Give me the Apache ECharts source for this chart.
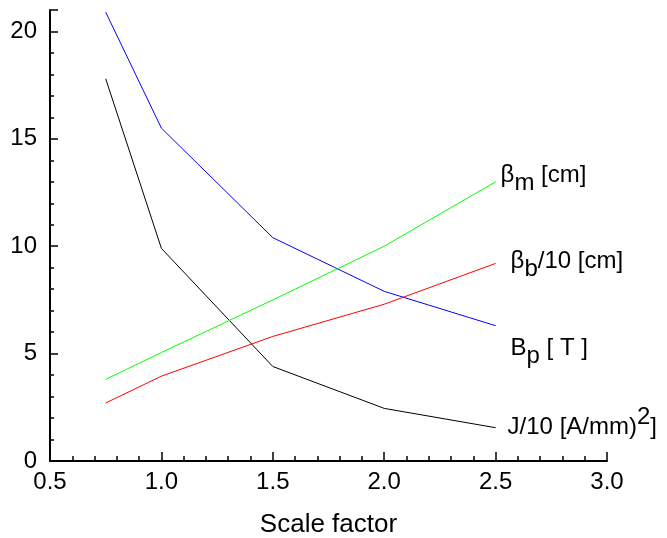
<!DOCTYPE html>
<html>
<head>
<meta charset="utf-8">
<script src="https://cdn.jsdelivr.net/npm/echarts@6/dist/echarts.min.js"></script>
<style>
  html, body { margin: 0; padding: 0; background: #fff; }
  #chart { width: 667px; height: 538px; }
</style>
</head>
<body>
<div id="chart"></div>
<script>
// scale factor along x
const scaleFactor = [0.75, 1.0, 1.5, 2.0, 2.5];
// curves
const bp = [20.9, 15.5, 10.4, 7.9, 6.3];
const jOver10 = [17.8, 9.9, 4.4, 2.45, 1.55];
const betaM = [3.8, 5.05, 7.5, 10.0, 13.0];
const betaB = [2.7, 3.95, 5.8, 7.3, 9.2];

const font = 'Liberation Sans, Arial, sans-serif';

function pairs(ys) {
    return scaleFactor.map((x, i) => [x, ys[i]]);
}

const rich = {
    t: { fontSize: 24, color: '#000', fontFamily: font },
    sub: { fontSize: 24, color: '#000', fontFamily: font, padding: [15, 0, 0, 0], verticalAlign: 'bottom' },
    sup: { fontSize: 24, color: '#000', fontFamily: font, padding: [0, 0, 20, 0], verticalAlign: 'top' }
};

const lines = [
    { name: 'Bp', data: bp, color: '#0000ff', label: '{t|B}{sub|p}{t| [ T ]}', offset: [7, 23] },
    { name: 'J', data: jOver10, color: '#000000', label: '{t|J/10 [A/mm)}{sup|2}{t|]}', offset: [4, 0] },
    { name: 'betaM', data: betaM, color: '#00ff00', label: '{t|β}{sub|m}{t| [cm]}', offset: [-3, -6] },
    { name: 'betaB', data: betaB, color: '#ff0000', label: '{t|β}{sub|b}{t|/10 [cm]}', offset: [7, -2] }
];

let series = [];
lines.forEach(item => {
    series.push({
        type: 'line',
        name: item.name,
        data: pairs(item.data),
        showSymbol: false,
        lineStyle: { color: item.color, width: 1 },
        endLabel: {
            show: true,
            formatter: () => item.label,
            offset: item.offset,
            rich: rich
        }
    });
});

let option = {
    animation: false,
    grid: { left: 50, right: 60, top: 10, bottom: 77, outerBoundsMode: 'none', containLabel: false },
    xAxis: {
        type: 'value',
        min: 0.5,
        max: 3.0,
        interval: 0.5,
        name: 'Scale factor',
        nameLocation: 'middle',
        nameGap: 51,
        nameTextStyle: { fontSize: 26, color: '#000', fontFamily: font },
        axisLine: { lineStyle: { color: '#000', width: 2 } },
        axisTick: { inside: true, length: 9, lineStyle: { color: '#000', width: 1.5 } },
        minorTick: { show: true, splitNumber: 5, length: 5, lineStyle: { color: '#000', width: 1.5 } },
        axisLabel: {
            margin: 9,
            fontSize: 24,
            color: '#000',
            fontFamily: font,
            formatter: v => v.toFixed(1)
        },
        splitLine: { show: false }
    },
    yAxis: {
        type: 'value',
        min: 0,
        max: 21,
        interval: 5,
        axisLine: { show: true, lineStyle: { color: '#000', width: 2 } },
        axisTick: { inside: true, length: 8, lineStyle: { color: '#000', width: 1.5 } },
        minorTick: { show: true, splitNumber: 5, length: 4, lineStyle: { color: '#000', width: 1.5 } },
        axisLabel: {
            margin: 13,
            fontSize: 24,
            color: '#000',
            fontFamily: font,
            formatter: v => (v % 5 === 0 ? String(v) : '')
        },
        splitLine: { show: false }
    },
    series: series
};

let chart = echarts.init(document.getElementById('chart'));
chart.setOption(option);
window.addEventListener('resize', function () {
    chart.resize();
});
</script>
</body>
</html>
